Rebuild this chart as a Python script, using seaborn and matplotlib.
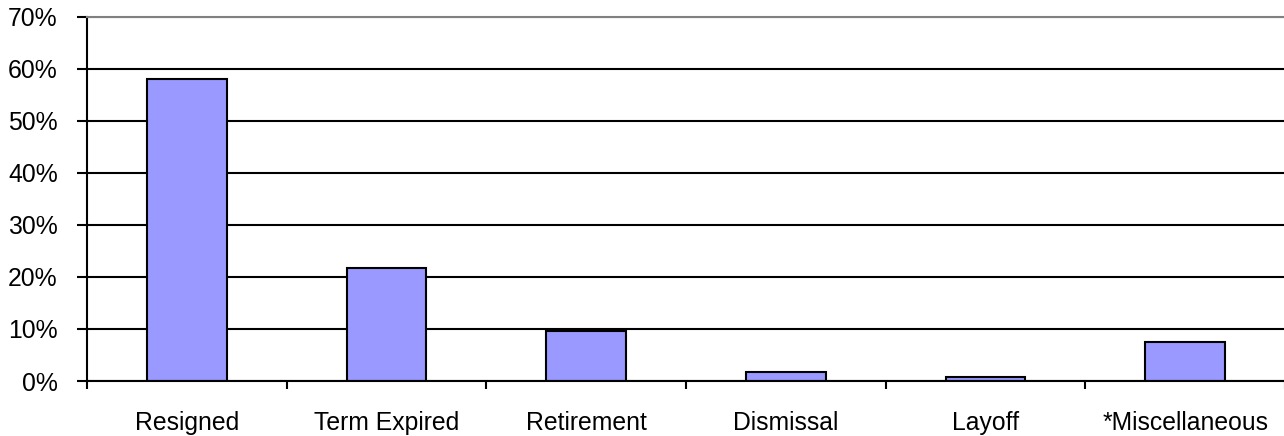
import matplotlib
matplotlib.use("Agg")
import matplotlib.pyplot as plt
import seaborn as sns
import pandas as pd
from matplotlib.ticker import FuncFormatter, FixedLocator

categories = ["Resigned", "Term Expired", "Retirement", "Dismissal", "Layoff", "*Miscellaneous"]
shares = [0.581, 0.217, 0.097, 0.017, 0.0085, 0.075]
y_ticks = [0.0, 0.1, 0.2, 0.3, 0.4, 0.5, 0.6, 0.7]

sns.set_style("white")
plt.rcParams["font.family"] = ["Liberation Sans", "DejaVu Sans"]

df = pd.DataFrame({"reason": categories, "share": shares})

fig = plt.figure(figsize=(12.84, 4.36), dpi=100)
ax = fig.add_axes([87 / 1284, 55 / 436, 1198 / 1284, 364.3 / 436])

sns.barplot(data=df, x="reason", y="share", color="#9999FF", saturation=1,
            edgecolor="black", linewidth=1.5, width=0.4, ax=ax)

ax.set_xlim(-0.5, len(categories) - 0.5)
ax.set_ylim(0, 0.7)
ax.set_yticks(y_ticks)
ax.yaxis.set_major_formatter(FuncFormatter(lambda v, _: f"{v * 100:.0f}%"))
ax.set_xlabel("")
ax.set_ylabel("")

# horizontal gridlines behind the bars; the top one is grey like the frame
ax.set_axisbelow(True)
ax.yaxis.grid(True, color="black", linewidth=1.5)
grid = ax.get_ygridlines()
grid[-1].set_color("#808080")

ax.spines["right"].set_visible(False)
ax.spines["top"].set_color("#808080")
ax.spines["top"].set_linewidth(1.5)
ax.spines["left"].set_color("black")
ax.spines["left"].set_linewidth(1.5)
ax.spines["bottom"].set_color("black")
ax.spines["bottom"].set_linewidth(1.5)

# category separators as ticks on the x axis
ax.xaxis.set_minor_locator(FixedLocator([i - 0.5 for i in range(len(categories) + 1)]))
ax.tick_params(axis="x", which="major", length=0, pad=21.5, labelsize=17.8, colors="black")
ax.tick_params(axis="x", which="minor", bottom=True, length=6, width=1.5, color="black", direction="out")
ax.tick_params(axis="y", which="major", left=True, length=7, width=1.5, color="black",
               direction="out", pad=14, labelsize=17.8, labelcolor="black")

fig.savefig("out.png", dpi=100, facecolor="white")
